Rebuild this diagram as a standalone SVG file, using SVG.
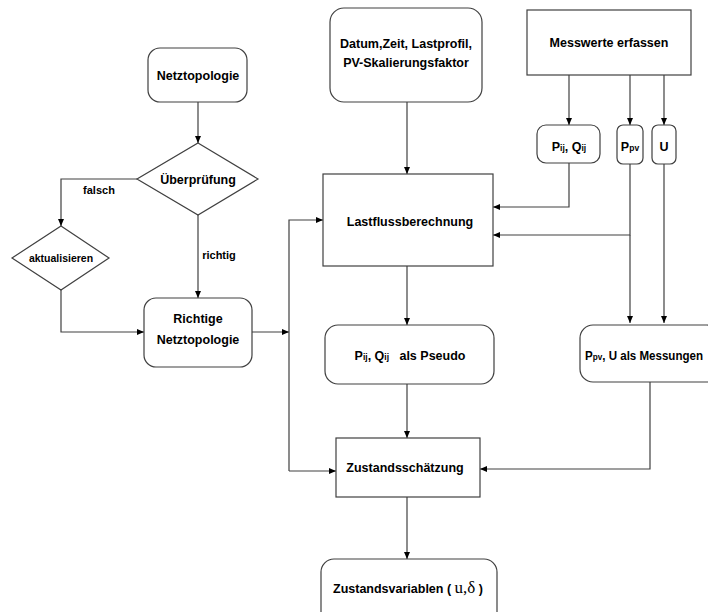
<svg xmlns="http://www.w3.org/2000/svg" width="708" height="612" viewBox="0 0 708 612">
<defs>
<marker id="ah" markerUnits="userSpaceOnUse" markerWidth="8" markerHeight="8" refX="7" refY="4" orient="auto">
<path d="M0,1 L7,4 L0,7 Z" fill="#000"/>
</marker>
<style>
.box{fill:#fff;stroke:#404040;stroke-width:1.2}
.t{font-family:"Liberation Sans",Arial,sans-serif;font-weight:bold;font-size:12.5px;fill:#000;text-anchor:middle;white-space:pre}
.s{font-size:11px}
.sub{font-size:8.5px}
.c{fill:none;stroke:#404040;stroke-width:1.2;marker-end:url(#ah)}
.m{font-family:"Liberation Serif","DejaVu Serif",serif;font-weight:normal;font-size:17px}
</style>
</defs>
<rect width="708" height="612" fill="#fff"/>
<g id="connectors">
<path class="c" d="M198,102 V143"/>
<path class="c" d="M137,179 H61 V226"/>
<path class="c" d="M198,215 V298"/>
<path class="c" d="M61,290 V332 H144"/>
<path class="c" d="M252,332 H289"/>
<path class="c" d="M289,471 V220 H323"/>
<path class="c" d="M289,471 H336"/>
<path class="c" d="M407,102 V174"/>
<path class="c" d="M569,75 V125"/>
<path class="c" d="M630,75 V125"/>
<path class="c" d="M664,75 V125"/>
<path class="c" d="M569,163 V207 H493"/>
<path class="c" d="M630,164 V235 H493"/>
<path class="c" d="M630,235 V323"/>
<path class="c" d="M664,164 V323"/>
<path class="c" d="M407,266 V325"/>
<path class="c" d="M407,384 V438"/>
<path class="c" d="M650,382 V469 H480"/>
<path class="c" d="M407,497 V559"/>
</g>
<g id="netztopologie">
<rect class="box" x="148" y="48" width="99" height="54" rx="12"/>
<text class="t" x="198" y="80">Netztopologie</text>
</g>
<g id="ueberpruefung">
<path class="box" d="M198,143 L258,179 L198,215 L137,179 Z"/>
<text class="t" x="198" y="184">Überprüfung</text>
</g>
<g id="label-falsch"><text class="t s" x="99" y="194">falsch</text></g>
<g id="label-richtig"><text class="t s" x="219" y="259">richtig</text></g>
<g id="aktualisieren">
<path class="box" d="M61,226 L109,258 L61,290 L12,258 Z"/>
<text class="t" style="font-size:10.5px" x="61" y="262">aktualisieren</text>
</g>
<g id="richtige-netztopologie">
<rect class="box" x="144" y="298" width="108" height="69" rx="12"/>
<text class="t" x="198" y="323">Richtige</text>
<text class="t" x="198" y="344">Netztopologie</text>
</g>
<g id="datum">
<rect class="box" x="330" y="8" width="152" height="94" rx="14"/>
<text class="t" x="406" y="48">Datum,Zeit, Lastprofil,</text>
<text class="t" x="406" y="67">PV-Skalierungsfaktor</text>
</g>
<g id="messwerte">
<rect class="box" x="527" y="10" width="164" height="65"/>
<text class="t" x="609" y="47">Messwerte erfassen</text>
</g>
<g id="pij-qij">
<rect class="box" x="537" y="125" width="63" height="38" rx="9"/>
<text class="t" x="569" y="151">P<tspan class="sub">ij</tspan>, Q<tspan class="sub">ij</tspan></text>
</g>
<g id="ppv">
<rect class="box" x="617" y="125" width="26" height="39" rx="6"/>
<text class="t" x="630" y="151">P<tspan class="sub">pv</tspan></text>
</g>
<g id="u">
<rect class="box" x="652" y="125" width="24" height="39" rx="6"/>
<text class="t" x="664" y="151">U</text>
</g>
<g id="lastfluss">
<rect class="box" x="323" y="174" width="170" height="92"/>
<text class="t" x="410" y="226">Lastflussberechnung</text>
</g>
<g id="pseudo">
<rect class="box" x="325" y="325" width="169" height="59" rx="13"/>
<text class="t" x="410" y="360">P<tspan class="sub">ij</tspan>, Q<tspan class="sub">ij</tspan>   als Pseudo</text>
</g>
<g id="messungen">
<rect class="box" x="580" y="325" width="140" height="57" rx="13"/>
<text class="t" style="text-anchor:start;font-size:12px" x="585" y="360" textLength="118" lengthAdjust="spacingAndGlyphs">P<tspan class="sub">pv</tspan>, U als Messungen</text>
</g>
<g id="zustandsschaetzung">
<rect class="box" x="336" y="438" width="144" height="59"/>
<text class="t" x="405" y="472">Zustandsschätzung</text>
</g>
<g id="zustandsvariablen">
<rect class="box" x="321" y="559" width="176" height="70" rx="13"/>
<text class="t" style="text-anchor:start" x="333" y="593">Zustandsvariablen ( <tspan class="m">u,δ</tspan> )</text>
</g>
</svg>
